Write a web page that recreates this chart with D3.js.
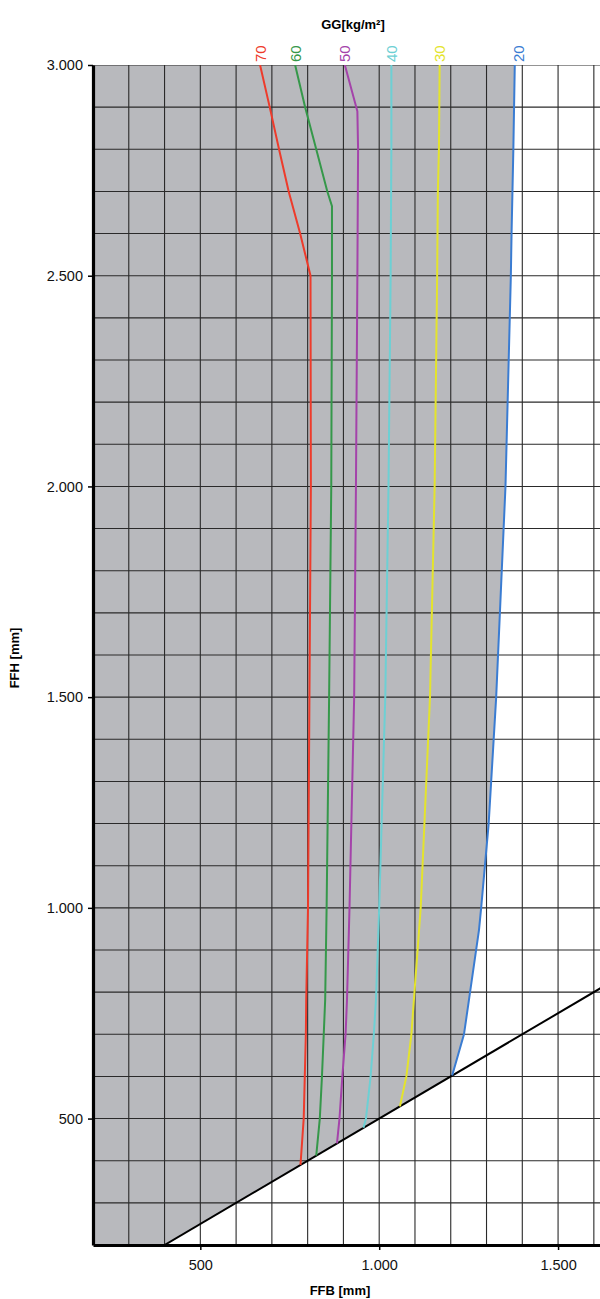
<!DOCTYPE html>
<html><head><meta charset="utf-8">
<script src="https://cdn.jsdelivr.net/npm/d3@7"></script>
<style>
html,body{margin:0;padding:0;background:#fff;}
svg{display:block;font-family:"Liberation Sans",Arial,sans-serif;}
</style></head>
<body><svg id="c" width="600" height="1299"></svg>
<script>
// ---- data (FFB in mm at given FFH in mm) ----
const seriesNames = ["70","60","50","40","30","20"];
const seriesColors = ["#ee3b2b","#35984a","#a443aa","#6dd0d4","#e4e42c","#3a7cd2"];
const ffh70 = [3000,2900,2800,2700,2600,2500,2000,1500,1000,782,700,600,500,390];
const ffb70 = [667,694,720,747,779,808,809,805,801,796,795,792,789,780];
const ffh60 = [3000,2900,2800,2700,2665,2500,2000,1500,1000,782,700,600,500,412];
const ffb60 = [765,793,824,855,868,868,866,860,853,849,845,840,834,824];
const ffh50 = [3000,2890,2800,2500,2000,1500,1000,782,700,600,500,441];
const ffb50 = [904,939,941,939,935,930,917,910,906,897,889,882];
const ffh40 = [3000,2800,2500,2000,1500,1000,782,700,600,500,478];
const ffb40 = [1034,1034,1032,1026,1017,1000,991,985,976,963,956];
const ffh30 = [3000,2800,2700,2500,2000,1500,1000,782,700,600,529];
const ffb30 = [1169,1167,1164,1162,1155,1142,1116,1097,1090,1076,1058];
const ffh20 = [3000,2800,2600,2500,2000,1500,1200,1000,948,782,700,602];
const ffb20 = [1379,1375,1370,1368,1353,1327,1306,1285,1279,1251,1237,1204];
const diagFFB = [400,1620];
const diagFFH = [200,810];
const xTicks = [500,1000,1500];
const xTickLabels = ["500","1.000","1.500"];
const yTicks = [500,1000,1500,2000,2500,3000];
const yTickLabels = ["500","1.000","1.500","2.000","2.500","3.000"];
const xTitle = "FFB [mm]", yTitle = "FFH [mm]", topTitle = "GG[kg/m²]";

const allFFB = [ffb70,ffb60,ffb50,ffb40,ffb30,ffb20];
const allFFH = [ffh70,ffh60,ffh50,ffh40,ffh30,ffh20];

const svg = d3.select("#c");
const x = d3.scaleLinear().domain([200,1620]).range([93,601]);
const y = d3.scaleLinear().domain([200,3000]).range([1245,65]);

const toPts = (bs,hs)=>bs.map((b,i)=>[b,hs[i]]);
const line = d3.line().x(d=>x(d[0])).y(d=>y(d[1]));

svg.append("defs").append("clipPath").attr("id","clip")
  .append("rect").attr("x",93).attr("y",65).attr("width",507).attr("height",1180);

const g = svg.append("g").attr("clip-path","url(#clip)");

// gray area: left of 20-curve and above diagonal
const area = [[200,200],[200,3000]].concat(toPts(ffb20,ffh20)).concat([[diagFFB[0],diagFFH[0]]]);
g.append("path").attr("d",line(area)+"Z").attr("fill","#b8b9bd");

// grid
const gx = d3.range(200,1700,100), gy = d3.range(200,3100,100);
g.selectAll(".vg").data(gx).join("line")
  .attr("x1",d=>x(d)).attr("x2",d=>x(d)).attr("y1",y(3000)).attr("y2",y(200))
  .attr("stroke","#2a2a2a").attr("stroke-width",1.1);
g.selectAll(".hg").data(gy).join("line")
  .attr("y1",d=>y(d)).attr("y2",d=>y(d)).attr("x1",x(200)).attr("x2",600)
  .attr("stroke","#2a2a2a").attr("stroke-width",1.1);

// diagonal
g.append("path").attr("d",line(toPts(diagFFB,diagFFH))).attr("fill","none")
  .attr("stroke","#000").attr("stroke-width",2);

// curves
allFFB.forEach((bs,i)=>{
  g.append("path").attr("d",line(toPts(bs,allFFH[i]))).attr("fill","none")
   .attr("stroke",seriesColors[i]).attr("stroke-width",2);
});

// top labels
allFFB.forEach((bs,i)=>{
  const cx = x(bs[0]) + (i===5?4:0);
  svg.append("text").attr("transform",`translate(${cx+5.5},62) rotate(-90)`)
    .attr("font-size",15).attr("fill",seriesColors[i]).text(seriesNames[i]);
});
svg.append("text").attr("x",353).attr("y",29).attr("text-anchor","middle")
  .attr("font-size",13).attr("font-weight","bold").text(topTitle);

// axes
const ay = svg.append("g").attr("transform","translate(93,0)")
  .call(d3.axisLeft(y).tickValues(yTicks).tickSize(5).tickSizeOuter(0).tickFormat((d,i)=>yTickLabels[i]));
const ax = svg.append("g").attr("transform","translate(0,1245)")
  .call(d3.axisBottom(x).tickValues(xTicks).tickSize(5).tickSizeOuter(0).tickFormat((d,i)=>xTickLabels[i]));
[ay,ax].forEach(a=>{
  a.select(".domain").attr("stroke","#000").attr("stroke-width",3.2);
  a.selectAll(".tick line").attr("stroke","#000").attr("stroke-width",1.5);
  a.selectAll(".tick text").attr("font-size",14.5).attr("fill","#111")
   .attr("font-family","Liberation Sans, Arial, sans-serif");
});
ay.selectAll(".tick text").attr("x",-10);
ax.selectAll(".tick text").attr("y",15);

svg.append("text").attr("x",340).attr("y",1295).attr("text-anchor","middle")
  .attr("font-size",13).attr("font-weight","bold").text(xTitle);
svg.append("text").attr("transform","translate(19,658) rotate(-90)").attr("text-anchor","middle")
  .attr("font-size",13).attr("font-weight","bold").text(yTitle);
</script></body></html>
